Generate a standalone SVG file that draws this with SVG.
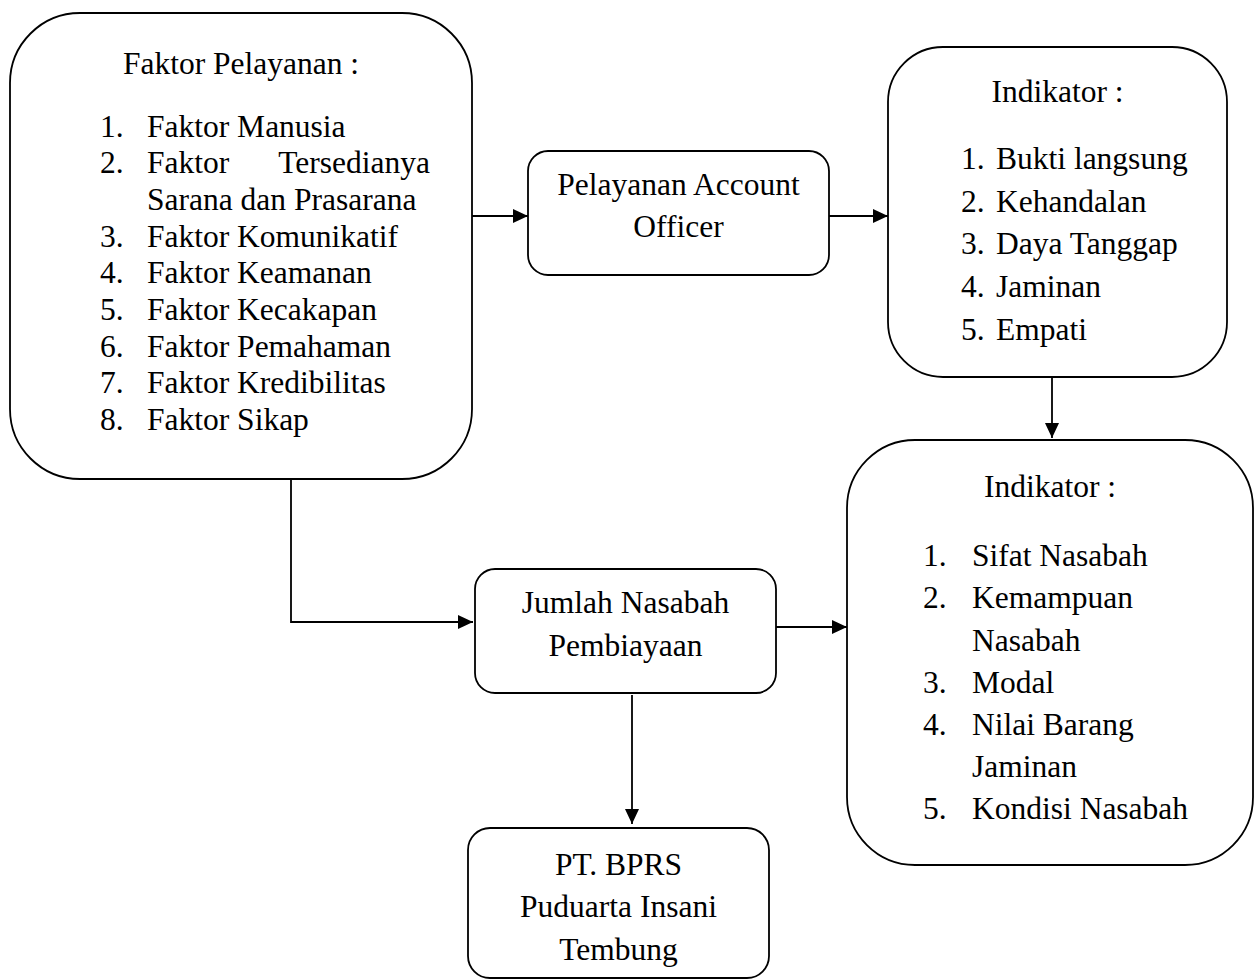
<svg xmlns="http://www.w3.org/2000/svg" width="1255" height="979" viewBox="0 0 1255 979">
<style>
.box{fill:#fff;stroke:#000;stroke-width:1.8}
.t{font-family:"Liberation Serif","Times New Roman",serif;font-size:31.5px;fill:#000}
.c{text-anchor:middle}
.e{text-anchor:end}
.con{fill:none;stroke:#000;stroke-width:1.8}
</style>
<defs>
<marker id="arr" markerUnits="userSpaceOnUse" markerWidth="16" markerHeight="16" refX="15" refY="7" orient="auto">
<path d="M0,0 L15,7 L0,14 Z" fill="#000"/>
</marker>
</defs>
<rect width="1255" height="979" fill="#fff"/>
<g id="connectors">
<line class="con" x1="472" y1="216" x2="528" y2="216" marker-end="url(#arr)"/>
<line class="con" x1="829" y1="216" x2="888" y2="216" marker-end="url(#arr)"/>
<line class="con" x1="1052" y1="377" x2="1052" y2="438" marker-end="url(#arr)"/>
<polyline class="con" points="291,479 291,622 473,622" marker-end="url(#arr)"/>
<line class="con" x1="776" y1="627" x2="847" y2="627" marker-end="url(#arr)"/>
<line class="con" x1="632" y1="695" x2="632" y2="824" marker-end="url(#arr)"/>
</g>
<g id="faktor-pelayanan">
<rect class="box" x="10" y="13" width="462" height="466" rx="70" ry="70"/>
<text class="t c" x="241" y="74">Faktor Pelayanan :</text>
<text class="t" x="100" y="137">1.</text><text class="t" x="147" y="137">Faktor Manusia</text>
<text class="t" x="100" y="173">2.</text><text class="t" x="147" y="173">Faktor</text><text class="t e" x="430" y="173">Tersedianya</text>
<text class="t" x="147" y="210">Sarana dan Prasarana</text>
<text class="t" x="100" y="247">3.</text><text class="t" x="147" y="247">Faktor Komunikatif</text>
<text class="t" x="100" y="283">4.</text><text class="t" x="147" y="283">Faktor Keamanan</text>
<text class="t" x="100" y="320">5.</text><text class="t" x="147" y="320">Faktor Kecakapan</text>
<text class="t" x="100" y="357">6.</text><text class="t" x="147" y="357">Faktor Pemahaman</text>
<text class="t" x="100" y="393">7.</text><text class="t" x="147" y="393">Faktor Kredibilitas</text>
<text class="t" x="100" y="430">8.</text><text class="t" x="147" y="430">Faktor Sikap</text>
</g>
<g id="pelayanan-ao">
<rect class="box" x="528" y="151" width="301" height="124" rx="20" ry="20"/>
<text class="t c" x="678.5" y="195">Pelayanan Account</text>
<text class="t c" x="678.5" y="237">Officer</text>
</g>
<g id="indikator-1">
<rect class="box" x="888" y="47" width="339" height="330" rx="55" ry="55"/>
<text class="t c" x="1057.5" y="102">Indikator :</text>
<text class="t" x="961" y="169">1.</text><text class="t" x="996" y="169">Bukti langsung</text>
<text class="t" x="961" y="212">2.</text><text class="t" x="996" y="212">Kehandalan</text>
<text class="t" x="961" y="254">3.</text><text class="t" x="996" y="254">Daya Tanggap</text>
<text class="t" x="961" y="297">4.</text><text class="t" x="996" y="297">Jaminan</text>
<text class="t" x="961" y="340">5.</text><text class="t" x="996" y="340">Empati</text>
</g>
<g id="indikator-2">
<rect class="box" x="847" y="440" width="406" height="425" rx="68" ry="68"/>
<text class="t c" x="1050" y="497">Indikator :</text>
<text class="t" x="923" y="566">1.</text><text class="t" x="972" y="566">Sifat Nasabah</text>
<text class="t" x="923" y="608">2.</text><text class="t" x="972" y="608">Kemampuan</text>
<text class="t" x="972" y="651">Nasabah</text>
<text class="t" x="923" y="693">3.</text><text class="t" x="972" y="693">Modal</text>
<text class="t" x="923" y="735">4.</text><text class="t" x="972" y="735">Nilai Barang</text>
<text class="t" x="972" y="777">Jaminan</text>
<text class="t" x="923" y="819">5.</text><text class="t" x="972" y="819">Kondisi Nasabah</text>
</g>
<g id="jumlah-nasabah">
<rect class="box" x="475" y="569" width="301" height="124" rx="20" ry="20"/>
<text class="t c" x="625.5" y="613">Jumlah Nasabah</text>
<text class="t c" x="625.5" y="656">Pembiayaan</text>
</g>
<g id="pt-bprs">
<rect class="box" x="468" y="828" width="301" height="150" rx="22" ry="22"/>
<text class="t c" x="618.5" y="875">PT. BPRS</text>
<text class="t c" x="618.5" y="917">Puduarta Insani</text>
<text class="t c" x="618.5" y="960">Tembung</text>
</g>
</svg>
